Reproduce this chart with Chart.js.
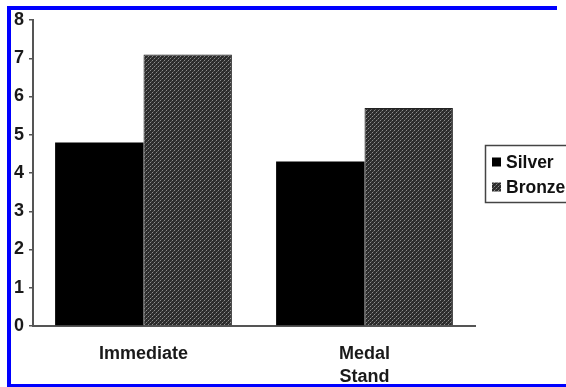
<!DOCTYPE html>
<html>
<head>
<meta charset="utf-8">
<script src="https://cdn.jsdelivr.net/npm/chart.js@4.4.0/dist/chart.umd.min.js"></script>
<style>
  body { margin: 0; background: #fff; }
  #wrap { position: relative; width: 566px; height: 387px; overflow: hidden; }
  .blue { position: absolute; background: #0000ff; }
</style>
</head>
<body>
<div id="wrap">
  <canvas id="myChart" width="566" height="387"></canvas>
  <div class="blue" style="left:7px;top:6px;width:550px;height:4px"></div>
  <div class="blue" style="left:7px;top:6px;width:4px;height:381px"></div>
  <div class="blue" style="left:7px;top:384px;width:559px;height:3px"></div>
</div>
<script>
// chart values
const categories = ['Immediate', ['Medal', 'Stand']];
const seriesNames = ['Silver', 'Bronze'];
const silverValues = [4.8, 4.3];
const bronzeValues = [7.1, 5.7];
const yTicks = [0, 1, 2, 3, 4, 5, 6, 7, 8];

const FONT = '"Liberation Sans", Arial, sans-serif';

// bronze fill: fine dark dotted checker
function makePattern() {
    const c = document.createElement('canvas');
    c.width = 4; c.height = 4;
    const g = c.getContext('2d');
    g.fillStyle = '#2c2c2c';
    g.fillRect(0, 0, 4, 4);
    g.fillStyle = '#8e8e8e';
    g.fillRect(0, 0, 1, 1);
    g.fillRect(2, 2, 1, 1);
    g.fillStyle = '#555';
    g.fillRect(1, 3, 1, 1);
    g.fillRect(3, 1, 1, 1);
    return g.createPattern(c, 'repeat');
}
const bronzeFill = makePattern();

// legend with a frame, drawn by hand
const boxLegend = {
    id: 'boxLegend',
    afterDraw(chart) {
        const ctx = chart.ctx;
        ctx.save();
        ctx.strokeStyle = '#444';
        ctx.lineWidth = 1.5;
        ctx.strokeRect(485.5, 145.5, 100, 57);
        chart.data.datasets.forEach((ds, i) => {
            const cy = 162 + i * 25;
            ctx.fillStyle = ds.backgroundColor;
            ctx.fillRect(492, cy - 4.5, 9, 9);
            ctx.fillStyle = '#111';
            ctx.font = 'bold 17.5px ' + FONT;
            ctx.textAlign = 'left';
            ctx.textBaseline = 'middle';
            ctx.fillText(ds.label, 506, cy + 1);
        });
        ctx.restore();
    }
};

const data = {
    labels: categories,
    datasets: [{
        label: seriesNames[0],
        backgroundColor: '#000000',
        data: silverValues,
        categoryPercentage: 0.8,
        barPercentage: 1.0
    }, {
        label: seriesNames[1],
        backgroundColor: bronzeFill,
        borderColor: '#222',
        borderWidth: 1,
        data: bronzeValues,
        categoryPercentage: 0.8,
        barPercentage: 1.0
    }]
};

const config = {
    type: 'bar',
    data: data,
    options: {
        responsive: false,
        animation: false,
        layout: { padding: { left: 0, top: 20, right: 91, bottom: 0 } },
        plugins: { legend: { display: false }, tooltip: { enabled: false } },
        scales: {
            x: {
                grid: { display: false },
                border: { display: true, color: '#555', width: 2 },
                ticks: { color: '#1a1a1a', padding: 8, font: { family: FONT, size: 18, weight: 'bold', lineHeight: 1.3 }, maxRotation: 0 },
                afterFit(scale) { scale.height = 61; }
            },
            y: {
                min: 0,
                max: 8,
                afterBuildTicks(scale) { scale.ticks = yTicks.map(v => ({ value: v })); },
                grid: { display: true, drawOnChartArea: false, drawTicks: true, tickLength: 4, color: '#555', lineWidth: 1.5 },
                border: { display: true, color: '#555', width: 2 },
                ticks: { color: '#1a1a1a', padding: 5, font: { family: FONT, size: 18, weight: 'bold' } },
                afterFit(scale) { scale.width = 33; }
            }
        }
    },
    plugins: [boxLegend]
};

var myChartJS = new Chart(document.getElementById('myChart'), config);
</script>
</body>
</html>
